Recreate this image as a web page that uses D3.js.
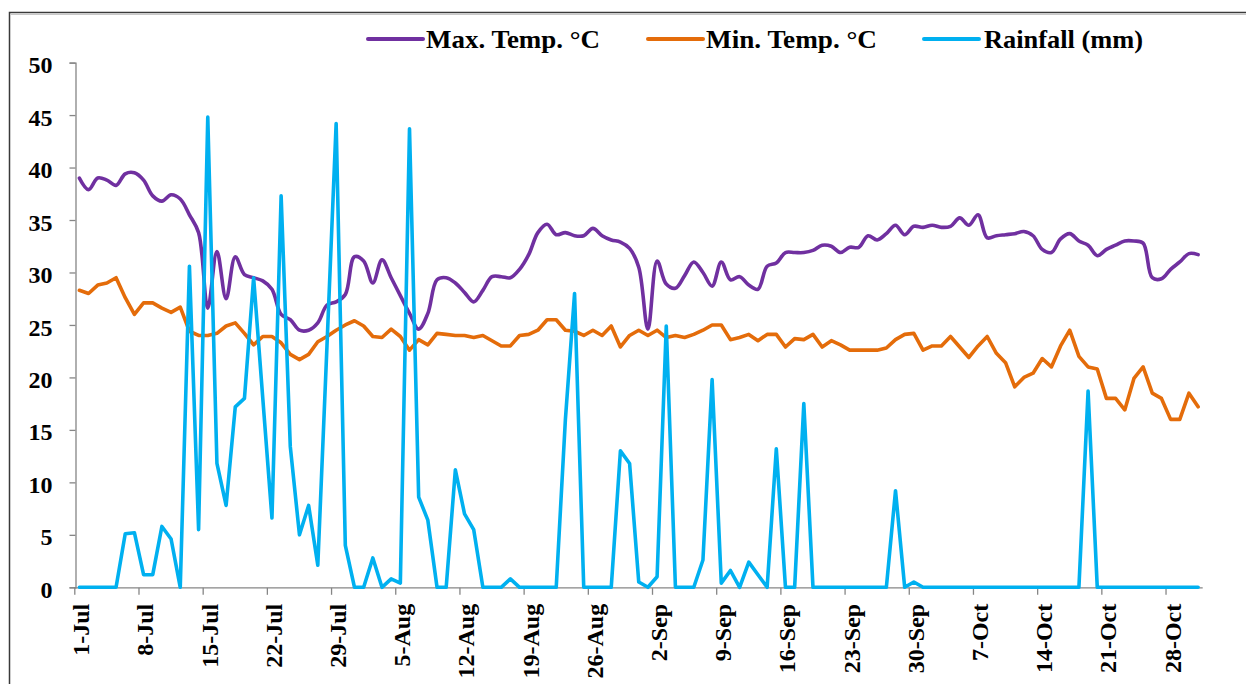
<!DOCTYPE html>
<html lang="en">
<head>
    <meta charset="UTF-8">
    <script src="https://cdn.jsdelivr.net/npm/d3@7"></script>
    <style>
        body { margin: 0; background: #fff; }
        svg text { font-family: "Liberation Serif", "Times New Roman", serif; font-weight: bold; fill: #000; }
    </style>
</head>
<body>
<div id="chart"></div>
<script>
// daily weather, 1-Jul to 31-Oct
var startDate = new Date(2023, 6, 1);
var endDate = new Date(2023, 10, 1);

var maxTemp = [
    39.0, 37.9, 39.0, 38.8, 38.3, 39.4, 39.5, 38.8, 37.3, 36.8,
    37.4, 37.0, 35.5, 33.8, 26.6, 32.0, 27.5, 31.5, 29.8, 29.5,
    29.2, 28.4, 26.0, 25.5, 24.5, 24.5, 25.2, 26.9, 27.2, 27.9,
    31.5, 31.1, 29.0, 31.2, 29.5, 27.8, 26.1, 24.6, 26.1, 29.3,
    29.5, 29.0, 28.1, 27.2, 28.3, 29.6, 29.6, 29.5, 30.3, 31.7,
    33.8, 34.6, 33.6, 33.8, 33.5, 33.5, 34.2, 33.5, 33.1, 32.9,
    32.3, 30.5, 24.6, 31.1, 28.9, 28.5, 29.7, 31.0, 30.0, 28.7,
    31.0, 29.3, 29.6, 28.8, 28.4, 30.6, 30.9, 31.9, 31.9, 31.9,
    32.1, 32.6, 32.5, 31.9, 32.4, 32.4, 33.5, 33.1, 33.7, 34.5,
    33.6, 34.4, 34.3, 34.5, 34.3, 34.4, 35.2, 34.5, 35.5, 33.3,
    33.5, 33.6, 33.7, 33.9, 33.5, 32.2, 31.9, 33.2, 33.7, 33.0,
    32.6, 31.6, 32.2, 32.6, 33.0, 33.0, 32.8, 29.5, 29.4, 30.3,
    31.0, 31.8, 31.7
];

var minTemp = [
    28.3, 28.0, 28.8, 29.0, 29.5, 27.6, 26.0, 27.1, 27.1, 26.6,
    26.2, 26.7, 24.4, 24.0, 24.0, 24.2, 24.9, 25.2, 24.2, 23.1,
    23.9, 23.9, 23.3, 22.2, 21.7, 22.2, 23.4, 23.9, 24.5, 25.0,
    25.4, 24.9, 23.9, 23.8, 24.6, 23.9, 22.6, 23.6, 23.1, 24.2,
    24.1, 24.0, 24.0, 23.8, 24.0, 23.5, 23.0, 23.0, 24.0, 24.1,
    24.5, 25.5, 25.5, 24.5, 24.4, 24.0, 24.5, 24.0, 24.9, 22.9,
    24.0, 24.5, 24.0, 24.5, 23.8, 24.0, 23.8, 24.1, 24.5, 25.0,
    25.0, 23.6, 23.8, 24.1, 23.5, 24.1, 24.1, 22.9, 23.7, 23.6,
    24.1, 22.9, 23.5, 23.1, 22.6, 22.6, 22.6, 22.6, 22.8, 23.6,
    24.1, 24.2, 22.6, 23.0, 23.0, 23.9, 22.9, 21.9, 23.0, 23.9,
    22.3, 21.4, 19.1, 20.0, 20.4, 21.8, 21.0, 23.0, 24.5, 22.0,
    21.0, 20.8, 18.0, 18.0, 16.9, 19.9, 21.0, 18.5, 18.0, 16.0,
    16.0, 18.5, 17.2
];

var rainfall = [
    0, 0, 0, 0, 0, 5.1, 5.2, 1.2, 1.2, 5.8,
    4.6, 0, 30.6, 5.5, 44.8, 11.8, 7.8, 17.2, 18.0, 29.5,
    18.0, 6.6, 37.3, 13.4, 5.0, 7.8, 2.1, 23.0, 44.2, 4.0,
    0, 0, 2.8, 0, 0.8, 0.4, 43.7, 8.6, 6.4, 0,
    0, 11.2, 7.0, 5.5, 0, 0, 0, 0.8, 0, 0,
    0, 0, 0, 16.0, 28.0, 0, 0, 0, 0, 13.0,
    11.8, 0.5, 0, 1.0, 24.9, 0, 0, 0, 2.6, 19.8,
    0.4, 1.6, 0, 2.4, 1.2, 0, 13.2, 0, 0, 17.5,
    0, 0, 0, 0, 0, 0, 0, 0, 0, 9.2,
    0, 0.5, 0, 0, 0, 0, 0, 0, 0, 0,
    0, 0, 0, 0, 0, 0, 0, 0, 0, 0,
    18.7, 0, 0, 0, 0, 0, 0, 0, 0, 0,
    0, 0, 0
];

var seriesNames = ["Max. Temp. \u00B0C", "Min. Temp. \u00B0C", "Rainfall (mm)"];
var seriesColors = ["#7030A0", "#E46C0A", "#00B0F0"];
var yTicks = [0, 5, 10, 15, 20, 25, 30, 35, 40, 45, 50];
var tickEvery = 7;

var width = 1246, height = 684;
var fmt = d3.timeFormat("%-d-%b");
var dates = d3.timeDay.range(startDate, endDate);

var svg = d3.select("#chart")
    .append("svg")
        .attr("width", width)
        .attr("height", height);

// outer frame
svg.append("rect")
    .attr("x", 9.5).attr("y", 12.5)
    .attr("width", 1300).attr("height", 700)
    .attr("fill", "none")
    .attr("stroke", "#3a3a3a")
    .attr("stroke-width", 1.5);
svg.append("line")
    .attr("x1", 10.5).attr("x2", 1246)
    .attr("y1", 14.5).attr("y2", 14.5)
    .attr("stroke", "#c8c8c8")
    .attr("stroke-width", 1);

// scales
var x = d3.scaleBand()
    .domain(dates)
    .range([74.8, 74.8 + 9.17 * dates.length])
    .padding(0);

var y = d3.scaleLinear()
    .domain([0, 50])
    .range([587.3, 62.6]);

var cx = function(i) { return x(dates[i]) + x.bandwidth() / 2; };

// y axis
var yAxis = svg.append("g")
    .attr("transform", "translate(75.5,0)")
    .call(d3.axisLeft(y).tickValues(yTicks).tickSize(6).tickPadding(17));
yAxis.select(".domain").attr("stroke", "#868686").attr("stroke-width", 1.3);
yAxis.selectAll(".tick line").attr("stroke", "#868686").attr("stroke-width", 1.3);
yAxis.selectAll("text")
    .attr("dy", "0.42em")
    .style("font-size", "24px");

// x axis: ticks between days, labels on the day
var xAxisG = svg.append("g").attr("transform", "translate(0,587.8)");
xAxisG.append("line")
    .attr("x1", 74.8).attr("x2", 74.8 + 9.17 * dates.length)
    .attr("stroke", "#868686").attr("stroke-width", 1.3);

var tickDates = dates.filter(function(d, i) { return i % tickEvery === 0; });

xAxisG.selectAll(".xt")
    .data(tickDates)
    .enter().append("line")
        .attr("x1", function(d) { return x(d); })
        .attr("x2", function(d) { return x(d); })
        .attr("y1", 0).attr("y2", 7)
        .attr("stroke", "#868686").attr("stroke-width", 1.3);

xAxisG.selectAll(".xl")
    .data(tickDates)
    .enter().append("text")
        .attr("transform", function(d) {
            return "translate(" + (x(d) + x.bandwidth() / 2 + 1.5) + ",16) rotate(-90)";
        })
        .attr("text-anchor", "end")
        .attr("dy", "0.35em")
        .style("font-size", "24px")
        .text(function(d) { return fmt(d); });

// lines
var smooth = d3.line()
    .x(function(d, i) { return cx(i); })
    .y(function(d) { return y(d); })
    .curve(d3.curveCatmullRom.alpha(0.5));

var straight = d3.line()
    .x(function(d, i) { return cx(i); })
    .y(function(d) { return y(d); });

var seriesData = [maxTemp, minTemp, rainfall];
var lineGens = [smooth, straight, straight];

seriesData.forEach(function(vals, k) {
    svg.append("path")
        .datum(vals)
        .attr("fill", "none")
        .attr("stroke", seriesColors[k])
        .attr("stroke-width", 3.6)
        .attr("stroke-linejoin", "round")
        .attr("stroke-linecap", "round")
        .attr("d", lineGens[k]);
});

// legend
var legendX = [368, 648, 924];
var legendTextW = [174, 171, 159];
var legend = svg.selectAll(".legend")
    .data(seriesNames)
    .enter().append("g")
        .attr("transform", function(d, i) { return "translate(" + legendX[i] + ",39)"; });

legend.append("line")
    .attr("x1", 0).attr("x2", 55)
    .attr("stroke", function(d, i) { return seriesColors[i]; })
    .attr("stroke-width", 4)
    .attr("stroke-linecap", "round");

legend.append("text")
    .attr("x", function(d, i) { return i === 2 ? 60 : 58; })
    .attr("y", 9)
    .attr("textLength", function(d, i) { return legendTextW[i]; })
    .attr("lengthAdjust", "spacingAndGlyphs")
    .style("font-size", "25px")
    .text(function(d) { return d; });
</script>
</body>
</html>
